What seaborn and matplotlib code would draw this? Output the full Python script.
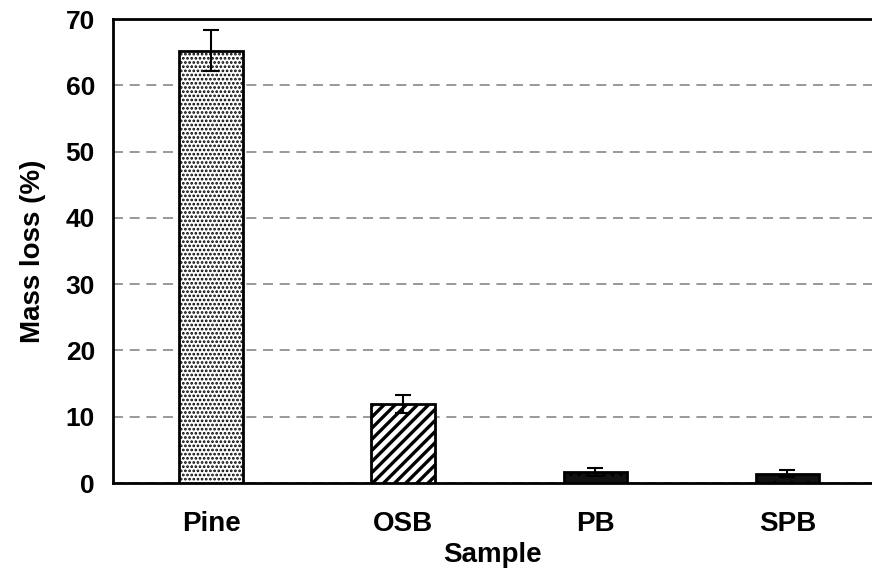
import numpy as np
import pandas as pd
import matplotlib
matplotlib.use('Agg')
import matplotlib.pyplot as plt
import seaborn as sns

# data
samples = ['Pine', 'OSB', 'PB', 'SPB']
mass_loss = [65.2, 11.9, 1.6, 1.4]
mass_err = [3.1, 1.4, 0.6, 0.5]

hatches = ['....', '///', '..', '.']
hatch_lw = [1.3, 2.4, 1.0, 1.0]
faces = ['white', 'white', '#111111', '#111111']

sns.set_theme(style='white')
plt.rcParams['font.family'] = ['Liberation Sans', 'DejaVu Sans']
plt.rcParams['hatch.linewidth'] = 1.6
plt.rcParams['text.color'] = 'black'
plt.rcParams['axes.labelcolor'] = 'black'
plt.rcParams['xtick.color'] = 'black'
plt.rcParams['ytick.color'] = 'black'

df = pd.DataFrame({'Sample': samples, 'Mass loss': mass_loss})

fig = plt.figure(figsize=(8.72, 5.71), dpi=100)
ax = fig.add_axes([0.1296, 0.154, 0.8704, 0.8127])

sns.barplot(data=df, x='Sample', y='Mass loss', order=samples, width=0.33,
            color='white', edgecolor='black', linewidth=2, errorbar=None,
            ax=ax, zorder=3)

for patch, h, lw, fc in zip(ax.patches, hatches, hatch_lw, faces):
    patch.set_hatch(h)
    patch.set_facecolor(fc)
    if hasattr(patch, 'set_hatch_linewidth'):
        patch.set_hatch_linewidth(lw)

ax.errorbar(np.arange(len(samples)), mass_loss, yerr=mass_err, fmt='none',
            ecolor='black', elinewidth=1.5, capsize=6, capthick=1.5, zorder=4)

ax.set_ylim(0, 70)
ax.set_xlim(-0.51, 3.44)
ax.set_yticks(range(0, 71, 10))
ax.yaxis.grid(True, linestyle=(0, (6, 4)), color='#888888', linewidth=1.2, zorder=0)
ax.xaxis.grid(False)

for side in ['left', 'top', 'bottom']:
    ax.spines[side].set_color('black')
    ax.spines[side].set_linewidth(2)
ax.spines['right'].set_visible(False)

ax.tick_params(axis='y', labelsize=19, length=0, pad=13)
ax.tick_params(axis='x', labelsize=20, length=0, pad=20)
for lbl in ax.get_xticklabels() + ax.get_yticklabels():
    lbl.set_fontweight('bold')

ax.set_xlabel('Sample', fontsize=20, fontweight='bold', labelpad=4)
ax.set_ylabel('Mass loss (%)', fontsize=20, fontweight='bold', labelpad=14)

fig.savefig('out.png', dpi=100)
